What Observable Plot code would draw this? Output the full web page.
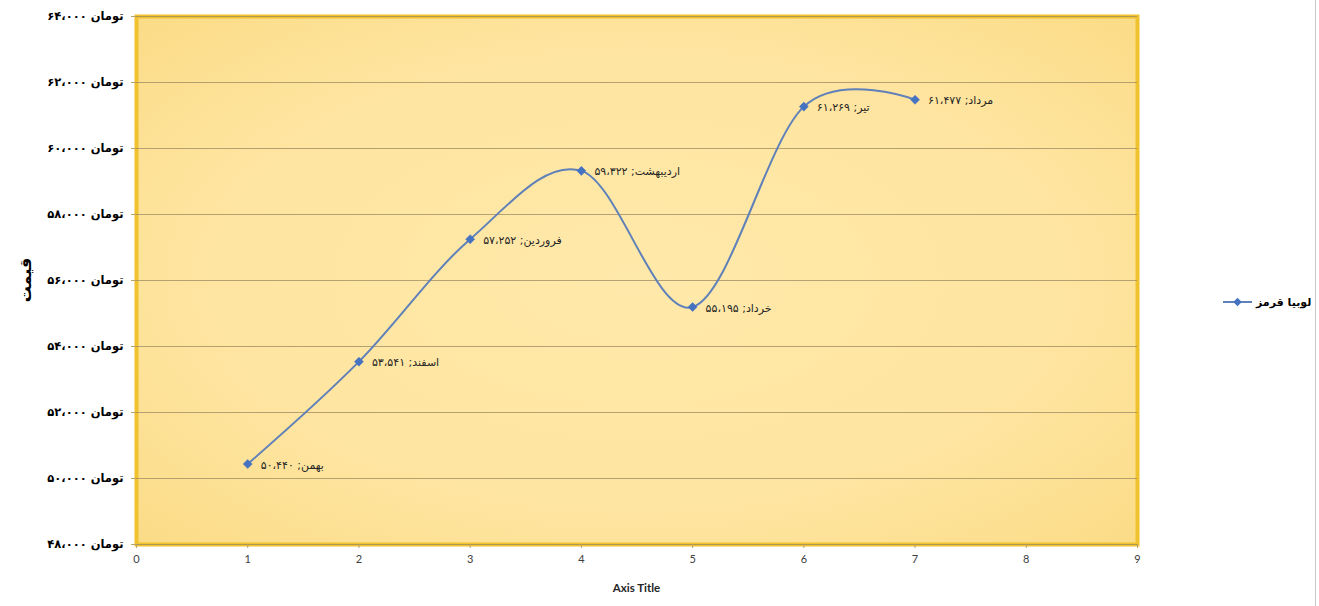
<!DOCTYPE html>
<html>
<head>
<meta charset="utf-8">
<script src="https://cdn.jsdelivr.net/npm/d3@7"></script>
<script src="https://cdn.jsdelivr.net/npm/@observablehq/plot@0.6"></script>
<style>
  html, body { margin: 0; padding: 0; background: #fff; }
  #wrap { position: relative; width: 1319px; height: 606px; overflow: hidden; }
  #border { position: absolute; left: 1315px; top: 0; width: 1px; height: 606px; background: #c8c8c8; }
  #legend { position: absolute; left: 1222px; top: 295px; display: flex; align-items: center; gap: 3px;
            font-family: "DejaVu Sans", sans-serif; font-weight: bold; font-size: 11px; color: #000; }
</style>
</head>
<body>
<div id="wrap"></div>
<script>
// ---- data ----
const months = ["بهمن", "اسفند", "فروردین", "اردیبهشت", "خرداد", "تیر", "مرداد"];
const xIndex = [1, 2, 3, 4, 5, 6, 7];
const prices = [50440, 53541, 57252, 59322, 55195, 61269, 61477];
const yTicks = [48000, 50000, 52000, 54000, 56000, 58000, 60000, 62000, 64000];
const xTicks = [0, 1, 2, 3, 4, 5, 6, 7, 8, 9];
const seriesName = "لوبیا قرمز";
const currency = "تومان";
const yTitle = "قیمت";
const xTitle = "Axis Title";

const faDigits = "۰۱۲۳۴۵۶۷۸۹";
const toFa = s => String(s).replace(/\d/g, d => faDigits[+d]);
const faNum = v => toFa(d3.format(",")(v)).replace(/,/g, "،");

const data = xIndex.map((x, i) => ({x, price: prices[i], month: months[i]}));

const W = 1319, H = 606;
const mL = 136, mR = 182, mT = 16, mB = 62;

const lineColor = "#5f80b9";
const dotColor = "#4673c1";

const chart = Plot.plot({
  width: W,
  height: H,
  marginLeft: mL,
  marginRight: mR,
  marginTop: mT,
  marginBottom: mB,
  x: {domain: [0, 9]},
  y: {domain: [48000, 64000]},
  marks: [
    Plot.frame({fill: "#fde197", stroke: "#f0c22e", strokeWidth: 4}),
    Plot.gridY(yTicks, {stroke: "#9c8a62", strokeOpacity: 0.75, strokeWidth: 1}),
    Plot.axisY({ticks: yTicks, tickFormat: v => faNum(v) + " " + currency, tickSize: 5, tickPadding: 8, label: null}),
    Plot.axisX({ticks: xTicks, tickFormat: d => String(d), tickSize: 4, tickPadding: 7, label: null}),
    Plot.line(data, {x: "x", y: "price", curve: "cardinal", stroke: lineColor, strokeWidth: 2}),
    Plot.dot(data, {x: "x", y: "price", symbol: "square", rotate: 45, r: 3.6, fill: dotColor, stroke: dotColor, strokeWidth: 0.5}),
    Plot.text(data, {x: "x", y: "price", text: d => d.month + "; " + faNum(d.price), textAnchor: "start", dx: 13, dy: 1,
      fontSize: 11, fill: "#262626", fontFamily: "DejaVu Sans"})
  ]
});

const svg = d3.select(chart);
// gradient fill for the plot area (styling only)
const defs = svg.insert("defs", ":first-child");
const rg = defs.append("radialGradient").attr("id", "bgGrad").attr("cx", "50%").attr("cy", "50%").attr("r", "75%");
rg.append("stop").attr("offset", "0%").attr("stop-color", "#ffe9aa");
rg.append("stop").attr("offset", "60%").attr("stop-color", "#fee49f");
rg.append("stop").attr("offset", "100%").attr("stop-color", "#fada82");
svg.selectAll('[aria-label="frame"]').attr("fill", "url(#bgGrad)");

svg.selectAll('[aria-label="y-axis tick label"]')
  .attr("font-family", "DejaVu Sans").attr("font-weight", "bold").attr("font-size", 11.5).attr("fill", "#000");
svg.selectAll('[aria-label="y-axis tick"]').attr("stroke", "#b7a16a");
svg.selectAll('[aria-label="x-axis tick label"]')
  .attr("font-family", "Lato, 'Open Sans', sans-serif").attr("font-size", 11).attr("fill", "#404040");
svg.selectAll('[aria-label="x-axis tick"]').attr("stroke", "#b7a16a");

// axis titles
const plotCx = mL + (W - mL - mR) / 2;
svg.append("text").text(xTitle)
  .attr("x", plotCx).attr("y", 592).attr("text-anchor", "middle")
  .attr("font-family", "Lato, 'Open Sans', sans-serif").attr("font-weight", "bold").attr("font-size", 11.5).attr("fill", "#262626");
svg.append("text").text(yTitle)
  .attr("transform", `translate(31, ${mT + (H - mT - mB) / 2}) rotate(-90)`).attr("text-anchor", "middle")
  .attr("font-family", "DejaVu Sans").attr("font-weight", "bold").attr("font-size", 16).attr("fill", "#000");

const wrap = document.getElementById("wrap");
wrap.appendChild(chart);
const border = document.createElement("div");
border.id = "border";
wrap.appendChild(border);

// legend: line sample on the left, name on the right
const legend = document.createElement("div");
legend.id = "legend";
const ls = d3.create("svg").attr("width", 31).attr("height", 14);
ls.append("line").attr("x1", 1).attr("x2", 30).attr("y1", 7).attr("y2", 7).attr("stroke", lineColor).attr("stroke-width", 2);
ls.append("rect").attr("x", -3).attr("y", -3).attr("width", 6).attr("height", 6).attr("transform", "translate(15.5,7) rotate(45)").attr("fill", dotColor);
legend.appendChild(ls.node());
const lt = document.createElement("span");
lt.textContent = seriesName;
legend.appendChild(lt);
wrap.appendChild(legend);
</script>
</body>
</html>
